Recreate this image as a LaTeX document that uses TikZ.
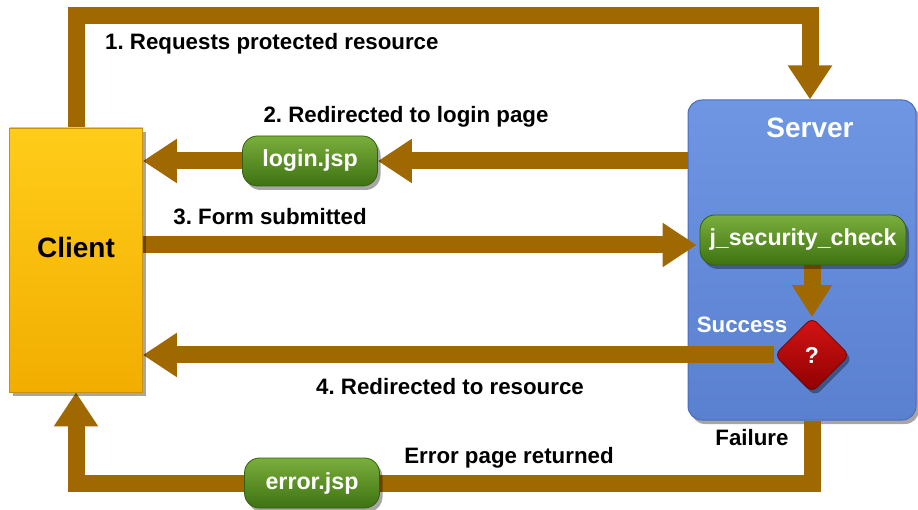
\documentclass[tikz,border=0pt]{standalone}
\usepackage{fontspec}
\setmainfont{Liberation Sans}
\frenchspacing
\usetikzlibrary{arrows.meta,shapes.geometric,shadows,calc}
\definecolor{arrowbrown}{HTML}{A06800}
\definecolor{clientTop}{HTML}{FFCC1A}
\definecolor{clientBot}{HTML}{F2AE00}
\definecolor{clientEdge}{HTML}{C89200}
\definecolor{serverTop}{HTML}{6E96E2}
\definecolor{serverBot}{HTML}{5A80D0}
\definecolor{serverEdge}{HTML}{4A6CBC}
\definecolor{pillTop}{HTML}{7AAE3C}
\definecolor{pillBot}{HTML}{3E7212}
\definecolor{pillEdge}{HTML}{33600C}
\definecolor{diaTop}{HTML}{D41414}
\definecolor{diaBot}{HTML}{8E0000}
\pgfdeclarelayer{background}
\pgfdeclarelayer{connectors}
\pgfsetlayers{background,connectors,main}
\tikzset{
  flow/.style={draw=arrowbrown, line width=17pt},
  bigtip/.style={-{Triangle[length=34pt,width=42pt]}},
  smalltip/.style={-{Triangle[length=32pt,width=38pt]}},
  lbl/.style={font=\bfseries\fontsize{22.3}{25}\selectfont, text=black, inner sep=0pt},
  wlbl/.style={font=\bfseries\fontsize{22.3}{25}\selectfont, text=white, inner sep=0pt},
  softshadow/.style={drop shadow={shadow xshift=3pt, shadow yshift=-4pt, opacity=0.35, fill=black}},
  clientbox/.style={rectangle, draw=clientEdge, line width=0.8pt, top color=clientTop, bottom color=clientBot,
     minimum width=133pt, minimum height=264pt, softshadow},
  serverbox/.style={rectangle, rounded corners=14pt, draw=serverEdge, line width=1pt, top color=serverTop, bottom color=serverBot,
     minimum width=228pt, minimum height=320pt, softshadow},
  pill/.style={rectangle, rounded corners=15pt, draw=pillEdge, line width=0.8pt, top color=pillTop, bottom color=pillBot,
     minimum height=50pt, inner xsep=4pt, text=white, font=\bfseries\fontsize{23.2}{26}\selectfont, softshadow},
  decision/.style={diamond, rounded corners=7pt, draw=diaBot!80!black, line width=0.8pt, top color=diaTop, bottom color=diaBot,
     minimum width=75pt, minimum height=75pt, inner sep=0pt, text=white, font=\bfseries\fontsize{23}{26}\selectfont, softshadow},
  bigtitle/.style={font=\bfseries\fontsize{28}{32}\selectfont, inner sep=0pt}
}
\begin{document}
\begin{tikzpicture}[x=1pt,y=-1pt]
\useasboundingbox (0,0) rectangle (918,510);

\begin{pgfonlayer}{background}
\fill[white] (0,0) rectangle (918,510);
\node[serverbox] (server) at (802,260) {};
\end{pgfonlayer}

% main nodes
\node[clientbox] (client) at (76,260) {};
\node[bigtitle, text=black] (clienttitle) at (76,247) {Client};
\node[bigtitle, text=white] (servertitle) at (810,128) {Server};
\node[pill, minimum width=135pt] (login) at (310,161) {login.jsp};
\node[pill, minimum width=206pt] (jsc) at (803,240) {j\_security\_check};
\node[decision] (dia) at (812,355) {?};
\node[pill, minimum width=135pt] (err) at (312,483) {error.jsp};

% helper coordinates
\coordinate (top) at (810,16);
\coordinate (y3) at (0,245);

% connectors
\begin{pgfonlayer}{connectors}
\draw[flow,bigtip] (client.north) |- (top) -- (server.north -| top);
\draw[flow,bigtip] (server.west |- login) -- (login.east);
\draw[flow,bigtip] (login.west) -- (client.east |- login);
\draw[flow,bigtip] (client.east |- y3) -- ($(jsc.west |- y3)+(-3,0)$);
\draw[flow,smalltip] (jsc.south -| dia) -- (dia.north);
\draw[flow,bigtip] (dia.west) -- (client.east |- dia);
\draw[flow] (server.south -| dia) |- (err.east);
\draw[flow,bigtip] (err.west) -| (client.south);
\end{pgfonlayer}

% labels
\node[lbl, anchor=west] (l1) at (105,44) {1. Requests protected resource};
\node[lbl] (l2) at (406,117) {2. Redirected to login page};
\node[lbl] (l3) at (270,217) {3. Form submitted};
\node[lbl] (l4) at (450,387) {4. Redirected to resource};
\node[lbl] (l5) at (509,458) {Error page returned};
\node[lbl] (l6) at (752,438) {Failure};
\node[wlbl] (l7) at (742,325) {Success};
\end{tikzpicture}
\end{document}
